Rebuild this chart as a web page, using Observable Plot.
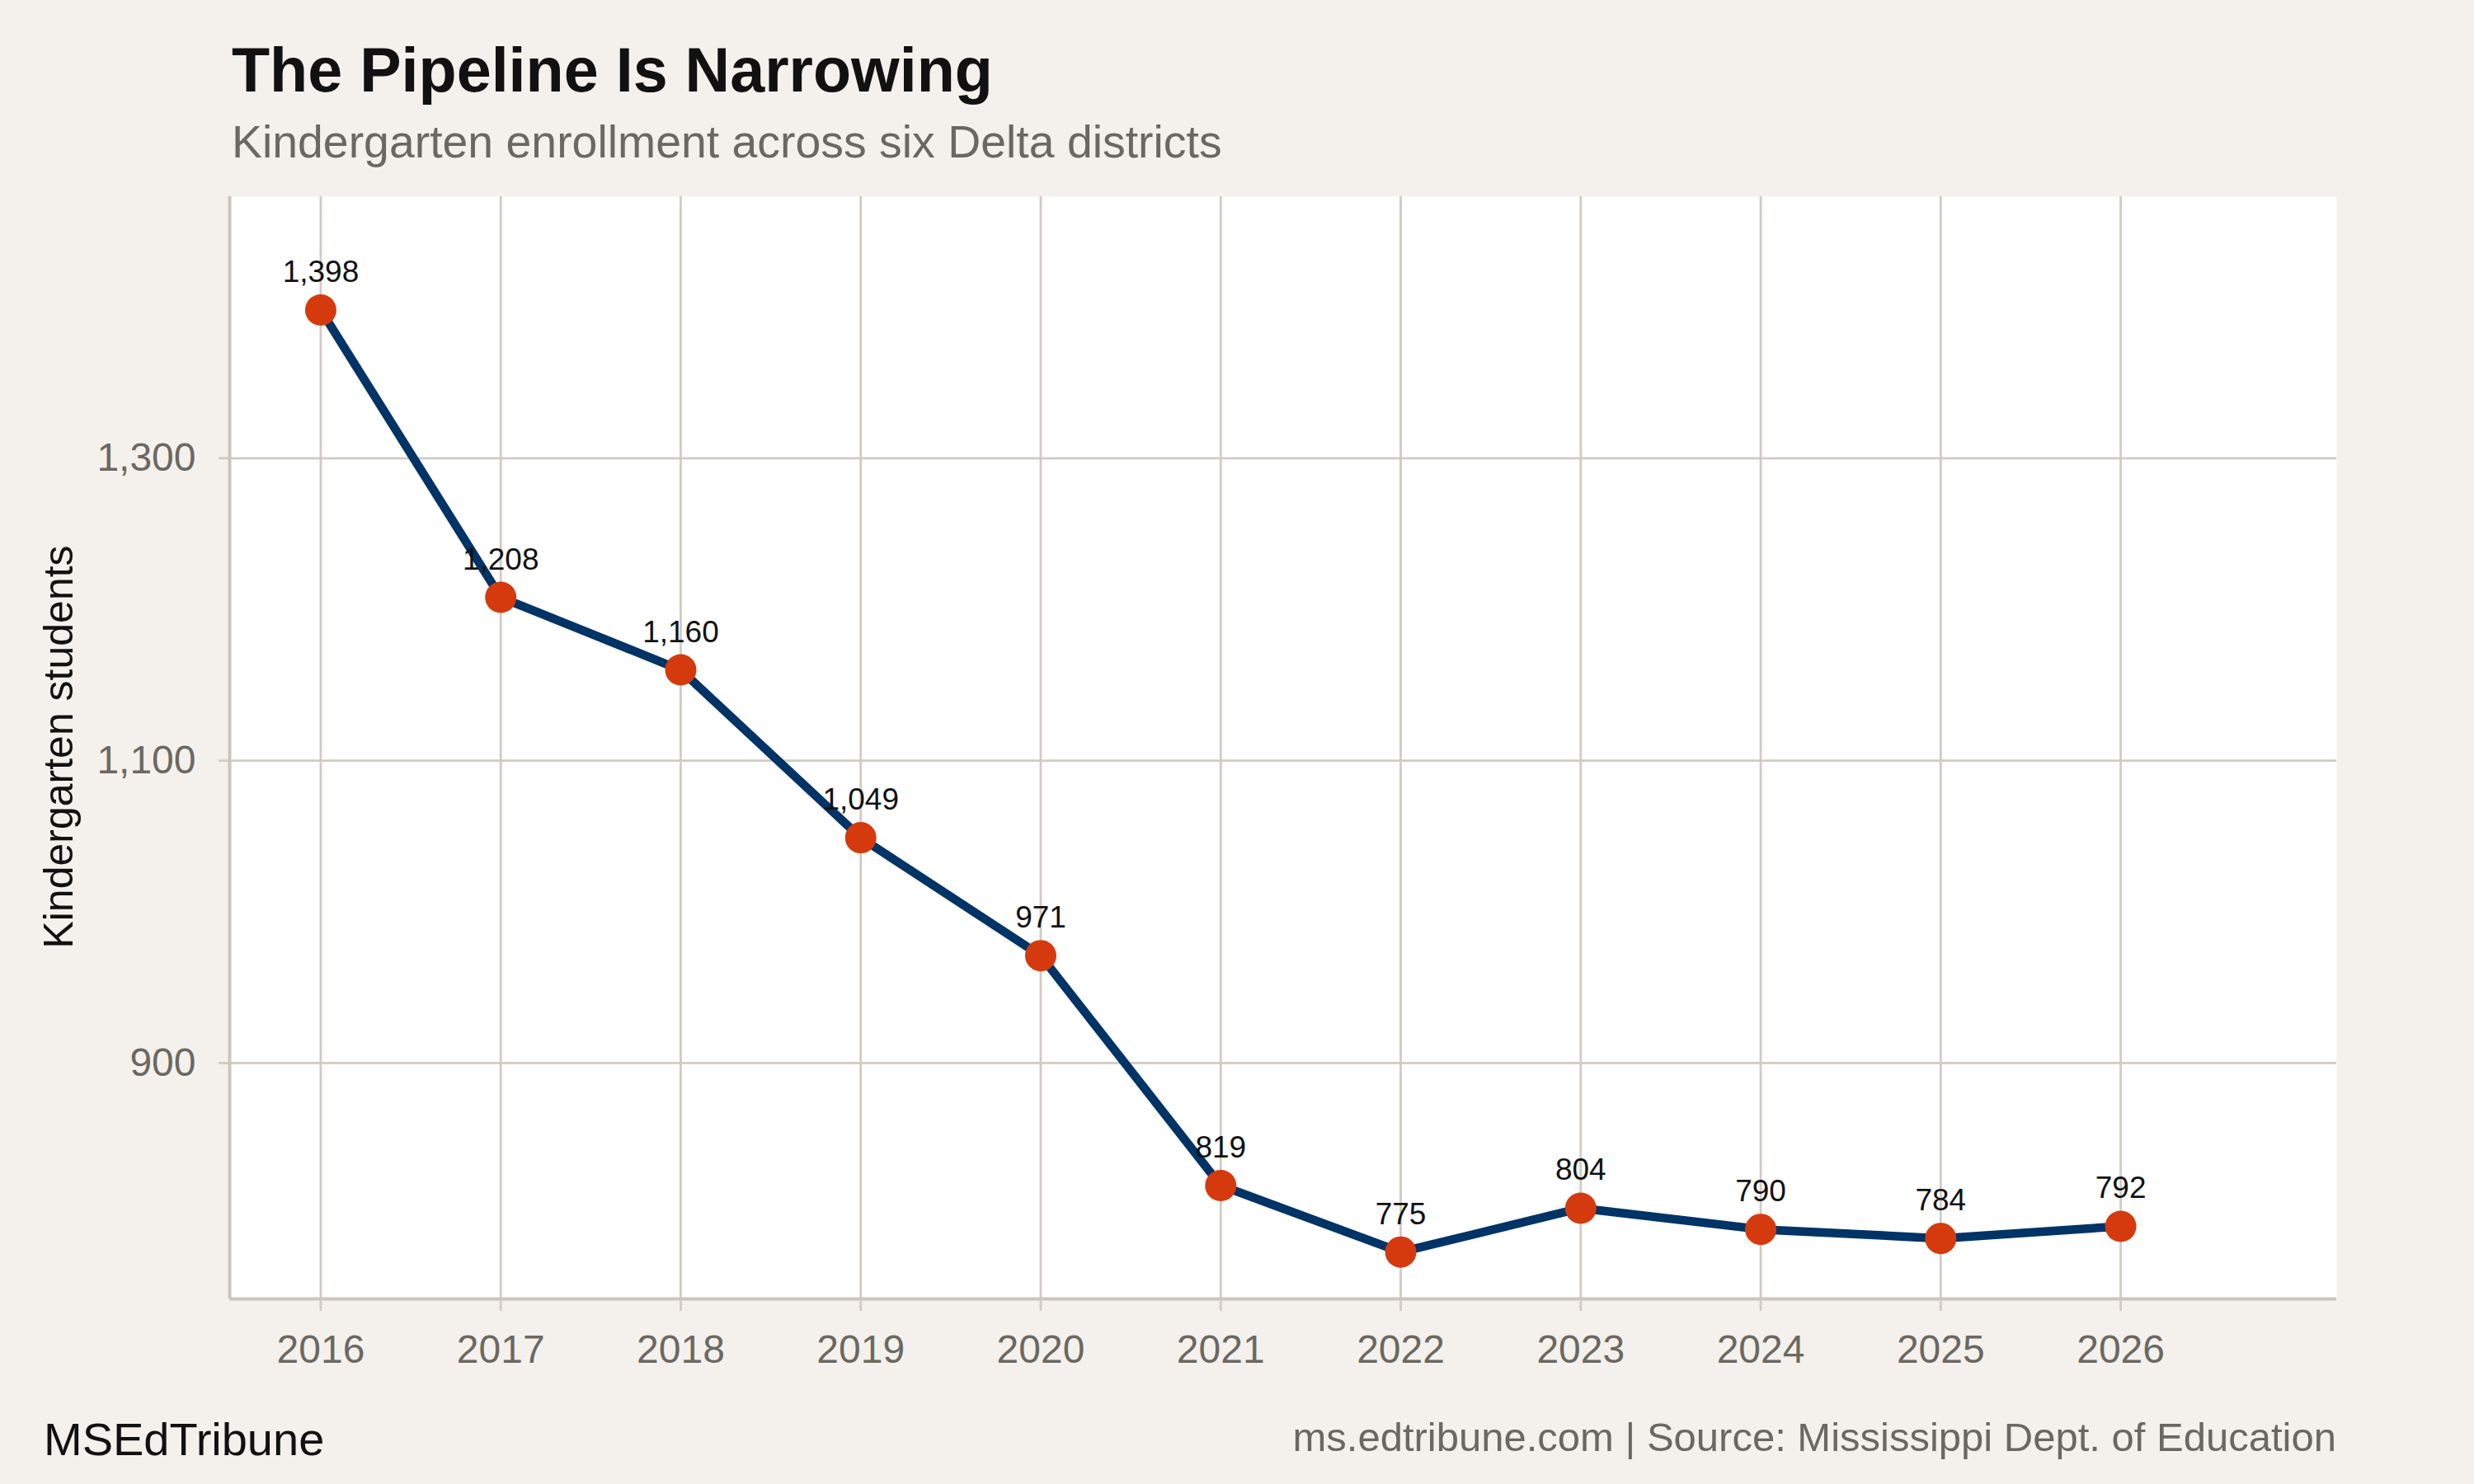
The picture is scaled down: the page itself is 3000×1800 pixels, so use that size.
<!DOCTYPE html>
<html>
<head>
<meta charset="utf-8">
<script src="https://cdn.jsdelivr.net/npm/d3@7"></script>
<script src="https://cdn.jsdelivr.net/npm/@observablehq/plot@0.6"></script>
<style>
  html, body { margin: 0; padding: 0; background: #f4f1ec; }
  #page { position: relative; width: 3000px; height: 1800px; background: #f4f1ec; overflow: hidden;
          font-family: "Liberation Sans", Arial, Helvetica, sans-serif; }
  .t { position: absolute; line-height: 1; white-space: nowrap; }
  #chart { position: absolute; left: 0; top: 0; }
</style>
</head>
<body>
<div id="page">
  <div id="chart"></div>
  <div class="t" id="title" style="left:281px; top:48px; font-size:75.5px; font-weight:bold; color:#111;">The Pipeline Is Narrowing</div>
  <div class="t" id="subtitle" style="left:281px; top:145px; font-size:55.4px; color:#6b6862;">Kindergarten enrollment across six Delta districts</div>
  <div class="t" id="ylabel" style="left:71px; top:906px; font-size:50px; color:#111; transform: translate(-50%,-50%) rotate(-90deg);">Kindergarten students</div>
  <div class="t" id="brand" style="left:53px; top:1718px; font-size:56px; color:#111;">MSEdTribune</div>
  <div class="t" id="caption" style="right:167px; top:1719px; font-size:49px; color:#6b6862;">ms.edtribune.com | Source: Mississippi Dept. of Education</div>
</div>
<script>
// ---- data ----
const years = [2016, 2017, 2018, 2019, 2020, 2021, 2022, 2023, 2024, 2025, 2026];
const enrollment = [1398, 1208, 1160, 1049, 971, 819, 775, 804, 790, 784, 792];
const yTicks = [900, 1100, 1300];
const xDomain = [2015.494, 2027.2];
const yDomain = [744, 1473];

const data = years.map((y, i) => ({year: y, value: enrollment[i]}));

const navy = "#003366";
const orange = "#d43a0e";
const gridColor = "#d0cbc3";
const axisColor = "#cbc5bc";
const textGray = "#6b6862";
const fmt = d3.format(",");

const plot = Plot.plot({
  width: 3000,
  height: 1800,
  marginTop: 238,
  marginRight: 167,
  marginBottom: 225,
  marginLeft: 278,
  style: {background: "transparent", fontFamily: "'Liberation Sans', Arial, Helvetica, sans-serif", fontSize: "48px"},
  x: {domain: xDomain, label: null},
  y: {domain: yDomain, label: null},
  marks: [
    Plot.frame({fill: "white", stroke: "none"}),
    Plot.gridY(yTicks, {stroke: gridColor, strokeOpacity: 1, strokeWidth: 2.8}),
    Plot.gridX(years, {stroke: gridColor, strokeOpacity: 1, strokeWidth: 2.8}),
    Plot.ruleX([xDomain[0]], {stroke: axisColor, strokeWidth: 4}),
    Plot.ruleY([yDomain[0]], {stroke: axisColor, strokeWidth: 4}),
    Plot.axisX(years, {tickFormat: d => String(d), tickSize: 15, tickPadding: 28, stroke: gridColor, strokeWidth: 2.8, fill: textGray, label: null}),
    Plot.axisY(yTicks, {tickFormat: fmt, tickSize: 13, tickPadding: 28, stroke: gridColor, strokeWidth: 2.8, fill: textGray, label: null}),
    Plot.line(data, {x: "year", y: "value", stroke: navy, strokeWidth: 10.5, strokeLinejoin: "round"}),
    Plot.dot(data, {x: "year", y: "value", r: 19, fill: orange, stroke: "none"}),
    Plot.text(data, {x: "year", y: "value", text: d => fmt(d.value), dy: -34, lineAnchor: "bottom", fontSize: 37, fill: "#111"})
  ]
});
document.getElementById("chart").appendChild(plot);
</script>
</body>
</html>
